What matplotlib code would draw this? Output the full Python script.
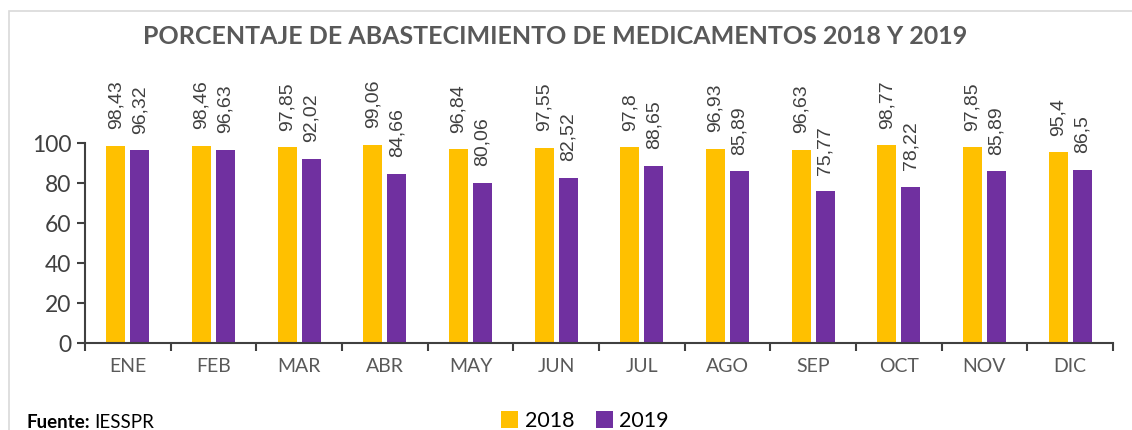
import numpy as np
import matplotlib.pyplot as plt
from matplotlib.patches import Rectangle

# Datos del gráfico
meses = ['ENE', 'FEB', 'MAR', 'ABR', 'MAY', 'JUN', 'JUL', 'AGO', 'SEP', 'OCT', 'NOV', 'DIC']
v2018 = [98.43, 98.46, 97.85, 99.06, 96.84, 97.55, 97.8, 96.93, 96.63, 98.77, 97.85, 95.4]
v2019 = [96.32, 96.63, 92.02, 84.66, 80.06, 82.52, 88.65, 85.89, 75.77, 78.22, 85.89, 86.5]

c2018 = '#FFC000'
c2019 = '#7030A0'
gris = '#595959'

fig = plt.figure(figsize=(11.32, 4.3), dpi=100)
W, H = 1132, 430

# marco gris claro del gráfico
fig.patches.append(Rectangle((9 / W, -0.1), 1.2, 1 - 11 / H + 0.1, transform=fig.transFigure,
                             fill=False, edgecolor='#D9D9D9', linewidth=1.2))

ax = fig.add_axes([85 / W, 1 - 343 / H, (1113 - 85) / W, 200 / H])

x = np.arange(len(meses)) + 0.5
ancho = 0.222
off = 0.14
b1 = ax.bar(x - off, v2018, ancho, color=c2018, label='2018')
b2 = ax.bar(x + off, v2019, ancho, color=c2019, label='2019')

# etiquetas de valores, verticales, con coma decimal
for barras, vals in ((b1, v2018), (b2, v2019)):
    for b, v in zip(barras, vals):
        ax.annotate(str(v).replace('.', ','), (b.get_x() + b.get_width() / 2, v),
                    xytext=(0, 12), textcoords='offset points', rotation=90,
                    ha='center', va='bottom', fontsize=14, color='#404040',
                    family='Liberation Sans', annotation_clip=False)

ax.set_xlim(0, len(meses))
ax.set_ylim(0, 100)
ax.set_yticks(np.arange(0, 101, 20))
ax.set_xticks(x)
ax.set_xticklabels(meses)
ax.set_xticks(np.arange(0, len(meses) + 1), minor=True)

for s in ('top', 'right'):
    ax.spines[s].set_visible(False)
for s in ('left', 'bottom'):
    ax.spines[s].set_color('#404040')
    ax.spines[s].set_linewidth(1.5)

ax.tick_params(axis='x', which='major', length=0, pad=11, labelsize=14, labelcolor=gris)
ax.tick_params(axis='x', which='minor', length=6, width=1.5, color='#404040')
ax.tick_params(axis='y', length=6, width=1.5, color='#404040', labelsize=16.5,
               labelcolor='#404040', pad=4)
for lab in ax.get_xticklabels() + ax.get_yticklabels():
    lab.set_family('Lato')

fig.text(555 / W, 1 - 36 / H, 'PORCENTAJE DE ABASTECIMIENTO DE MEDICAMENTOS 2018 Y 2019',
         ha='center', va='center', fontsize=18, fontweight='bold', color=gris, family='Lato')

fig.legend(handles=[b1, b2], loc='center', bbox_to_anchor=(585 / W, 1 - 421 / H), ncol=2,
           frameon=False, prop={'family': 'Lato', 'size': 15.5}, handlelength=0.8,
           handleheight=0.8, handletextpad=0.3, columnspacing=1.0, borderpad=0)

t1 = fig.text(27 / W, 1 - 428 / H, 'Fuente:', ha='left', va='baseline', fontsize=13.5,
              fontweight='bold', color='black', family='Lato')
fig.canvas.draw()
bb = t1.get_window_extent()
fig.text((bb.x1 + 4) / W, 1 - 428 / H, 'IESSPR', ha='left', va='baseline', fontsize=13.5,
         color='black', family='Lato')

plt.savefig('out.png', dpi=100)
